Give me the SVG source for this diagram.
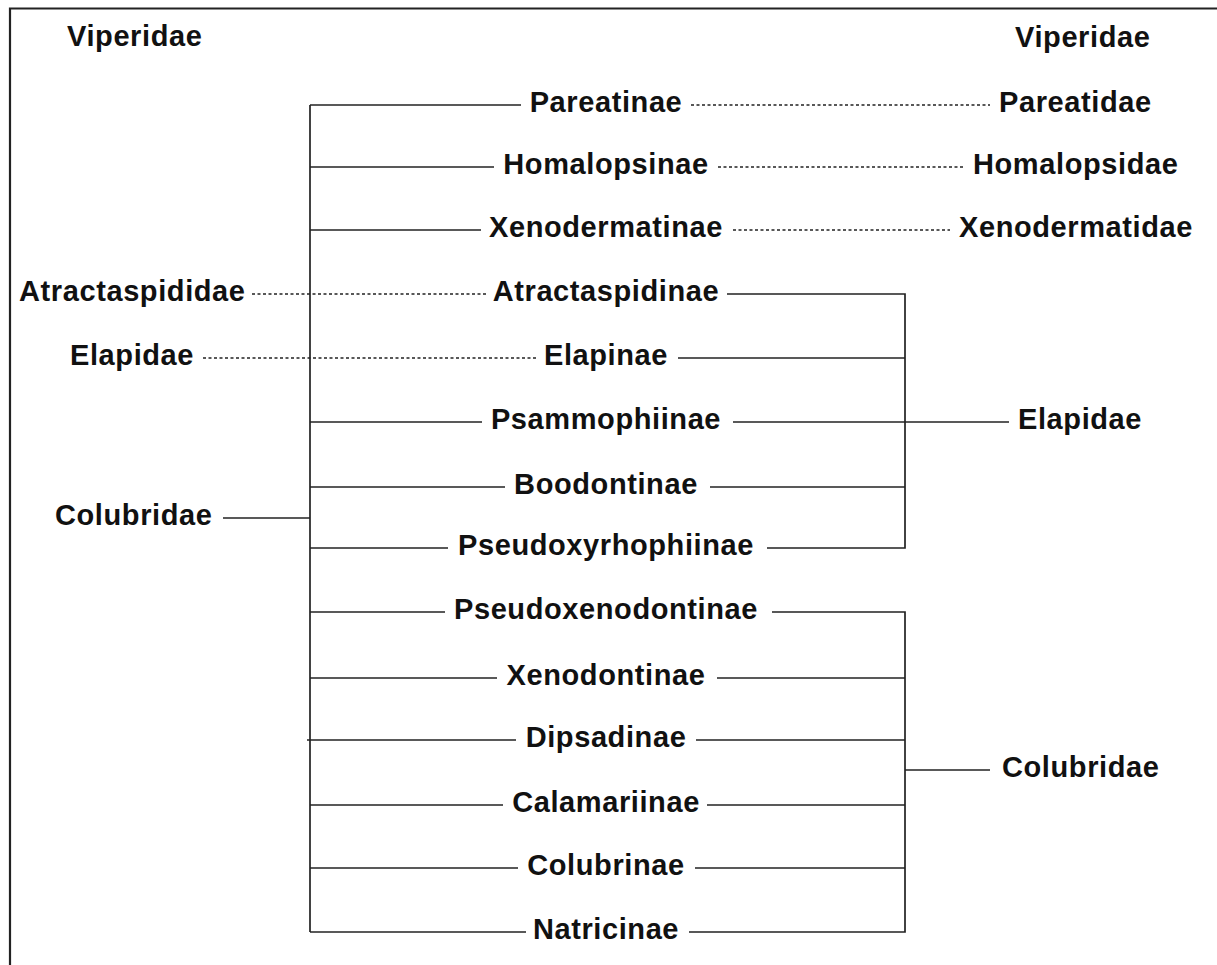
<svg xmlns="http://www.w3.org/2000/svg" width="1217" height="965" viewBox="0 0 1217 965">
<style>
text{font-family:"Liberation Sans",Arial,sans-serif;font-weight:bold;font-size:29px;letter-spacing:0.6px;fill:#111}
.c{text-anchor:middle}
.ln{stroke:#222;stroke-width:1.7;fill:none}
.dt{stroke:#222;stroke-width:1.6;fill:none;stroke-dasharray:3 2.5}
.fr{stroke:#222;stroke-width:2.2;fill:none}
</style>
<rect width="1217" height="965" fill="#fff"/>
<path class="fr" d="M10,965 V8.5 H1217"/>
<g id="connectors">
<path class="ln" d="M310,105 V932"/>
<path class="ln" d="M223,518 H310"/>
<path class="ln" d="M310,105 H521"/>
<path class="ln" d="M310,167 H494"/>
<path class="ln" d="M310,230 H481"/>
<path class="ln" d="M310,422 H482"/>
<path class="ln" d="M310,487 H505"/>
<path class="ln" d="M310,548 H448"/>
<path class="ln" d="M310,612 H445"/>
<path class="ln" d="M310,678 H497"/>
<path class="ln" d="M307,740 H516"/>
<path class="ln" d="M310,805 H503"/>
<path class="ln" d="M310,868 H518"/>
<path class="ln" d="M310,932 H526"/>
<path class="dt" d="M691,105 H990"/>
<path class="dt" d="M718,167 H965"/>
<path class="dt" d="M733,230 H950"/>
<path class="dt" d="M252,294 H487"/>
<path class="dt" d="M203,358 H537"/>
<path class="ln" d="M727,294 H905 V548 H767"/>
<path class="ln" d="M678,358 H905"/>
<path class="ln" d="M733,422 H1009"/>
<path class="ln" d="M710,487 H905"/>
<path class="ln" d="M772,612 H905 V932 H689"/>
<path class="ln" d="M717,678 H905"/>
<path class="ln" d="M696,740 H905"/>
<path class="ln" d="M707,805 H905"/>
<path class="ln" d="M695,868 H905"/>
<path class="ln" d="M905,770 H990"/>
</g>
<g id="left-viperidae"><text x="67" y="46">Viperidae</text></g>
<g id="left-atractaspididae"><text x="19" y="301">Atractaspididae</text></g>
<g id="left-elapidae"><text x="70" y="365">Elapidae</text></g>
<g id="left-colubridae"><text x="55" y="525">Colubridae</text></g>
<g id="pareatinae"><text class="c" x="606" y="112">Pareatinae</text></g>
<g id="homalopsinae"><text class="c" x="606" y="174">Homalopsinae</text></g>
<g id="xenodermatinae"><text class="c" x="606" y="237">Xenodermatinae</text></g>
<g id="atractaspidinae"><text class="c" x="606" y="301">Atractaspidinae</text></g>
<g id="elapinae"><text class="c" x="606" y="365">Elapinae</text></g>
<g id="psammophiinae"><text class="c" x="606" y="429">Psammophiinae</text></g>
<g id="boodontinae"><text class="c" x="606" y="494">Boodontinae</text></g>
<g id="pseudoxyrhophiinae"><text class="c" x="606" y="555">Pseudoxyrhophiinae</text></g>
<g id="pseudoxenodontinae"><text class="c" x="606" y="619">Pseudoxenodontinae</text></g>
<g id="xenodontinae"><text class="c" x="606" y="685">Xenodontinae</text></g>
<g id="dipsadinae"><text class="c" x="606" y="747">Dipsadinae</text></g>
<g id="calamariinae"><text class="c" x="606" y="812">Calamariinae</text></g>
<g id="colubrinae"><text class="c" x="606" y="875">Colubrinae</text></g>
<g id="natricinae"><text class="c" x="606" y="939">Natricinae</text></g>
<g id="right-viperidae"><text x="1015" y="47">Viperidae</text></g>
<g id="right-pareatidae"><text x="999" y="112">Pareatidae</text></g>
<g id="right-homalopsidae"><text x="973" y="174">Homalopsidae</text></g>
<g id="right-xenodermatidae"><text x="959" y="237">Xenodermatidae</text></g>
<g id="right-elapidae"><text x="1018" y="429">Elapidae</text></g>
<g id="right-colubridae"><text x="1002" y="777">Colubridae</text></g>
</svg>
